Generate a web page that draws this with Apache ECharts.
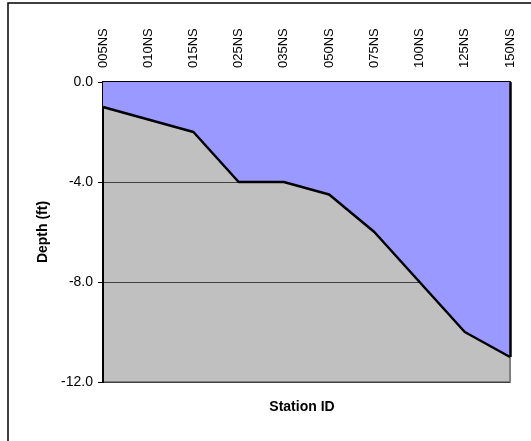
<!DOCTYPE html>
<html>
<head>
<meta charset="utf-8">
<script src="https://cdn.jsdelivr.net/npm/echarts@6/dist/echarts.min.js"></script>
<style>html,body{margin:0;padding:0;background:#fff;overflow:hidden}#c{width:531px;height:441px}</style>
</head>
<body>
<div id="c"></div>
<script>
var stations = ['005NS','010NS','015NS','025NS','035NS','050NS','075NS','100NS','125NS','150NS'];
var depth = [-1.0, -1.5, -2.0, -4.0, -4.0, -4.5, -6.0, -8.0, -10.0, -11.0];

var chart = echarts.init(document.getElementById('c'), null, {renderer: 'canvas'});
var font = 'Liberation Sans, Arial, sans-serif';
chart.setOption({
  animation: false,
  backgroundColor: '#ffffff',
  grid: {
    left: 103, right: 21, top: 82, bottom: 59,
    show: true, backgroundColor: '#C0C0C0',
    borderColor: '#808080', borderWidth: 2
  },
  xAxis: {
    type: 'category',
    data: stations,
    position: 'top',
    boundaryGap: false,
    axisLine: {show: true, lineStyle: {color: '#000', width: 2}},
    axisTick: {show: true, inside: true, length: 5, lineStyle: {color: '#000', width: 1}},
    axisLabel: {rotate: 90, margin: 14, color: '#000', fontSize: 13, fontFamily: font},
    splitLine: {show: false}
  },
  yAxis: {
    type: 'value',
    min: -12, max: 0, interval: 4,
    name: 'Depth (ft)',
    nameLocation: 'middle',
    nameGap: 53,
    nameRotate: 90,
    nameTextStyle: {color: '#000', fontSize: 14, fontWeight: 'bold', fontFamily: font},
    axisLine: {show: true, lineStyle: {color: '#000', width: 2}},
    axisTick: {show: true, length: 5, lineStyle: {color: '#000', width: 1}},
    axisLabel: {color: '#000', fontSize: 14, fontFamily: font, margin: 10,
      formatter: function (v) { return v.toFixed(1); }},
    splitLine: {show: true, lineStyle: {color: '#404040', width: 1}}
  },
  graphic: [
    {type: 'polyline', shape: {points: [[8, 441], [8, 3], [531, 3]]},
     style: {fill: 'none', stroke: '#000', lineWidth: 1.5}, z: 100},
    {type: 'text', x: 302, y: 407,
     style: {text: 'Station ID', fill: '#000', font: 'bold 14px ' + font,
       textAlign: 'center', textVerticalAlign: 'middle'}}
  ],
  series: [
    {
      type: 'line',
      data: depth,
      symbol: 'none',
      lineStyle: {color: '#000', width: 2.5},
      areaStyle: {color: '#9999FF', opacity: 1, origin: 'end'},
      z: 3,
      markLine: {
        silent: true, symbol: 'none', label: {show: false},
        lineStyle: {color: '#000', width: 2.5, type: 'solid'},
        data: [[
          {coord: [stations[stations.length - 1], 0]},
          {coord: [stations[stations.length - 1], depth[depth.length - 1]]}
        ]]
      }
    }
  ]
});
</script>
</body>
</html>
